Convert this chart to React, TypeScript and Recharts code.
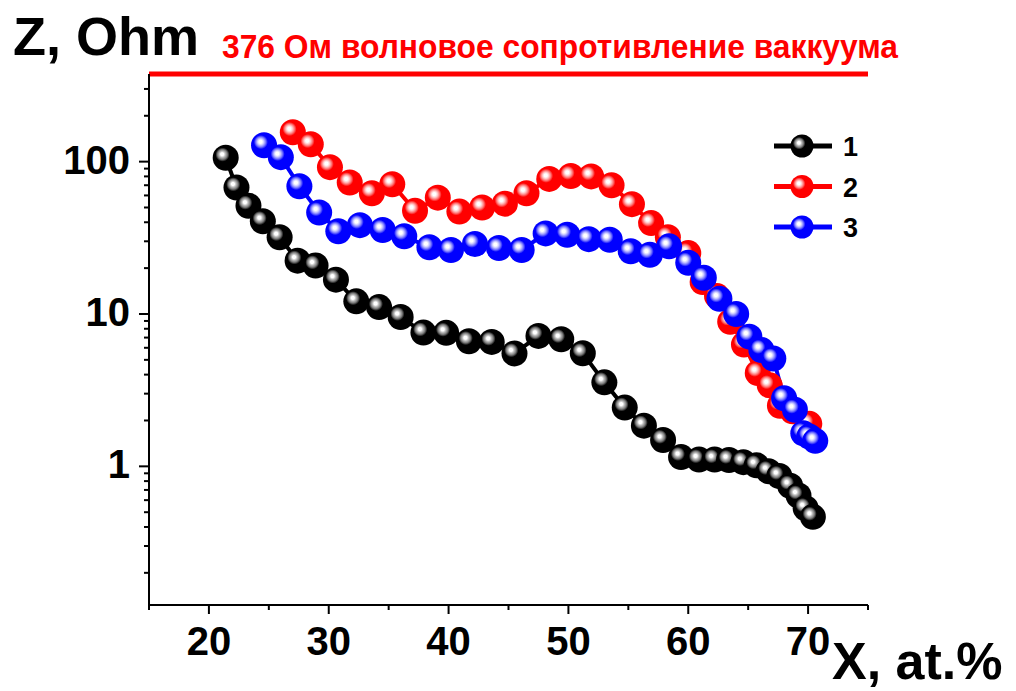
import React from 'react';
import {
  LineChart,
  Line,
  XAxis,
  YAxis,
  ReferenceLine,
  Legend,
} from 'recharts';

// X, at.% and Z (Ohm)
const s1X = [21.4, 22.3, 23.3, 24.5, 25.9, 27.4, 28.9, 30.6, 32.3, 34.2, 36.0, 37.9, 39.8, 41.7, 43.6, 45.5, 47.5, 49.4, 51.2, 53.0, 54.7, 56.3, 57.9, 59.4, 60.9, 62.2, 63.4, 64.6, 65.7, 66.7, 67.6, 68.5, 69.2, 69.8, 70.4];
const s1Y = [106, 67.6, 51.3, 40.6, 31.9, 22.4, 20.8, 16.8, 12.1, 11.1, 9.55, 7.55, 7.52, 6.62, 6.56, 5.51, 7.18, 6.83, 5.52, 3.56, 2.43, 1.85, 1.49, 1.15, 1.11, 1.11, 1.1, 1.065, 1.015, 0.93, 0.864, 0.746, 0.643, 0.531, 0.466];

const s2X = [27.0, 28.5, 30.1, 31.75, 33.6, 35.3, 37.2, 39.1, 40.9, 42.8, 44.7, 46.5, 48.4, 50.2, 51.9, 53.6, 55.3, 56.9, 58.3, 60.0, 61.2, 62.4, 63.5, 64.65, 65.8, 66.8, 67.65, 68.7, 70.1];
const s2Y = [156, 130, 92, 73, 62, 71, 47.6, 58, 47, 50, 53, 62, 77, 80.5, 80, 70, 52.6, 39.5, 31.9, 25.1, 16.2, 13.1, 8.9, 6.3, 4.1, 3.4, 2.5, 2.3, 1.9];

const s3X = [24.6, 26.0, 27.55, 29.2, 30.8, 32.6, 34.5, 36.3, 38.4, 40.2, 42.2, 44.2, 46.1, 48.1, 49.9, 51.7, 53.45, 55.2, 56.8, 58.4, 60.0, 61.3, 62.6, 64.0, 65.1, 66.1, 67.1, 68.0, 68.9, 69.6, 70.1, 70.6];
const s3Y = [128, 107, 69, 46.4, 34.9, 38.3, 35.6, 32.4, 27.4, 26.3, 28.8, 27.1, 26.3, 33.8, 33.1, 31.0, 30.7, 25.8, 24.5, 27.8, 21.7, 17.3, 12.6, 10.0, 7.1, 5.8, 5.1, 2.8, 2.35, 1.65, 1.57, 1.47];

const xTicks = [15, 20, 25, 30, 35, 40, 45, 50, 55, 60, 65, 70, 75];
const yTicks = [0.2, 0.3, 0.4, 0.5, 0.6, 0.7, 0.8, 0.9, 1, 2, 3, 4, 5, 6, 7, 8, 9, 10, 20, 30, 40, 50, 60, 70, 80, 90, 100, 200, 300];
const yMajor = [1, 10, 100];

const vacuumZ = 376;
const vacuumText = '376 Ом волновое сопротивление ваккуума';

const toRows = (xs: number[], ys: number[]) => xs.map((x, i) => ({ x, z: ys[i] }));
const data1 = toRows(s1X, s1Y);
const data2 = toRows(s2X, s2Y);
const data3 = toRows(s3X, s3Y);

const FONT = "'Liberation Sans', Arial, Helvetica, sans-serif";

const series = [
  { name: '1', data: data1, color: '#000000', grad: 'ballBlack' },
  { name: '2', data: data2, color: '#ff0000', grad: 'ballRed' },
  { name: '3', data: data3, color: '#0000ff', grad: 'ballBlue' },
];

const XTick = ({ x, y, payload }: any) => {
  const major = payload.value % 10 === 0;
  return (
    <g>
      <line x1={x} x2={x} y1={y} y2={y + (major ? 9 : 5)} stroke="#000" strokeWidth={2} />
      {major && (
        <text x={x} y={y + 50} textAnchor="middle" fontSize={40} fontWeight="bold" fontFamily={FONT} fill="#000">
          {payload.value}
        </text>
      )}
    </g>
  );
};

const YTick = ({ x, y, payload }: any) => {
  const major = yMajor.includes(payload.value);
  return (
    <g>
      <line x1={x - (major ? 10 : 5)} x2={x} y1={y} y2={y} stroke="#000" strokeWidth={2} />
      {major && (
        <text x={x - 19} y={y + 12} textAnchor="end" fontSize={40} fontWeight="bold" fontFamily={FONT} fill="#000">
          {payload.value}
        </text>
      )}
    </g>
  );
};

const makeDot = (grad: string, r: number) => (props: any) => {
  const { cx, cy, index } = props;
  if (cx == null || cy == null) return <g key={index} />;
  return <circle key={index} cx={cx} cy={cy} r={r} fill={`url(#${grad})`} />;
};

const LegendBox = ({ payload }: any) => (
  <svg width={110} height={120}>
    {(payload || []).map((item: any, i: number) => {
      const s = series.find((d) => d.name === item.value) || series[i];
      const cy = 18 + i * 40.5;
      return (
        <g key={item.value}>
          <line x1={4} x2={62} y1={cy} y2={cy} stroke={s.color} strokeWidth={5} />
          <circle cx={32} cy={cy} r={11.5} fill={`url(#${s.grad})`} />
          <text x={73} y={cy + 10} fontSize={27} fontWeight="bold" fontFamily={FONT} fill="#000">
            {item.value}
          </text>
        </g>
      );
    })}
  </svg>
);

export default function App() {
  const ballStops = (mid: string, light: string, edge: string) => [
    <stop key="a" offset="0" stopColor="#ffffff" />,
    <stop key="b" offset="0.1" stopColor="#ffffff" />,
    <stop key="c" offset="0.2" stopColor={light} />,
    <stop key="d" offset="0.32" stopColor={mid} />,
    <stop key="e" offset="0.45" stopColor={edge} />,
    <stop key="f" offset="1" stopColor={edge} />,
  ];

  return (
    <div style={{ position: 'absolute', left: 0, top: 0, width: 1016, height: 691, background: '#fff' }}>
      <LineChart width={1016} height={691} margin={{ top: 74, right: 148, bottom: 36, left: 0 }}>
        <defs>
          <radialGradient id="ballBlack" cx="0.4" cy="0.4" r="0.6" fx="0.36" fy="0.36">
            {ballStops('#777777', '#bbbbbb', '#000000')}
          </radialGradient>
          <radialGradient id="ballRed" cx="0.4" cy="0.4" r="0.6" fx="0.36" fy="0.36">
            {ballStops('#ff7777', '#ffcccc', '#ff0000')}
          </radialGradient>
          <radialGradient id="ballBlue" cx="0.4" cy="0.4" r="0.6" fx="0.36" fy="0.36">
            {ballStops('#7777ff', '#ccccff', '#0000ff')}
          </radialGradient>
        </defs>
        <XAxis
          dataKey="x"
          type="number"
          domain={[15, 75]}
          ticks={xTicks}
          allowDataOverflow
          height={50}
          tickSize={0}
          tickMargin={0}
          tickLine={false}
          axisLine={{ stroke: '#000', strokeWidth: 2 }}
          tick={<XTick />}
          interval={0}
          label={(p: any) => {
            const vb = p.viewBox || { x: 149, y: 605, width: 719 };
            return (
              <text x={vb.x + vb.width - 36} y={vb.y + 74} fontSize={52} fontWeight="bold" fontFamily={FONT} fill="#000">
                X, at.%
              </text>
            );
          }}
        />
        <YAxis
          dataKey="z"
          type="number"
          scale="log"
          domain={[0.123, 376]}
          ticks={yTicks}
          allowDataOverflow
          width={149}
          tickSize={0}
          tickMargin={0}
          tickLine={false}
          axisLine={{ stroke: '#000', strokeWidth: 2 }}
          tick={<YTick />}
          interval={0}
          label={(p: any) => {
            const vb = p.viewBox || { x: 0, y: 74 };
            return (
              <text x={vb.x + 13} y={vb.y - 19} fontSize={54} fontWeight="bold" fontFamily={FONT} fill="#000">
                Z, Ohm
              </text>
            );
          }}
        />
        <ReferenceLine
          y={vacuumZ}
          stroke="#ff0000"
          strokeWidth={5}
          ifOverflow="visible"
          label={(p: any) => {
            const vb = p.viewBox || { x: 149, y: 74 };
            return (
              <text
                x={vb.x + 73}
                y={vb.y - 16}
                fontSize={33}
                fontWeight="bold"
                fontFamily={FONT}
                fill="#ff0000"
                textLength={676}
                lengthAdjust="spacingAndGlyphs"
              >
                {vacuumText}
              </text>
            );
          }}
        />
        <Legend
          layout="vertical"
          align="center"
          verticalAlign="middle"
          content={<LegendBox />}
          wrapperStyle={{ position: 'absolute', left: 770, top: 128, width: 110, height: 120 }}
        />
        {series.map((s) => (
          <Line
            key={s.name}
            name={s.name}
            data={s.data}
            dataKey="z"
            type="linear"
            stroke={s.color}
            strokeWidth={4}
            dot={makeDot(s.grad, 13)}
            activeDot={false}
            legendType="circle"
            isAnimationActive={false}
          />
        ))}
      </LineChart>
    </div>
  );
}
